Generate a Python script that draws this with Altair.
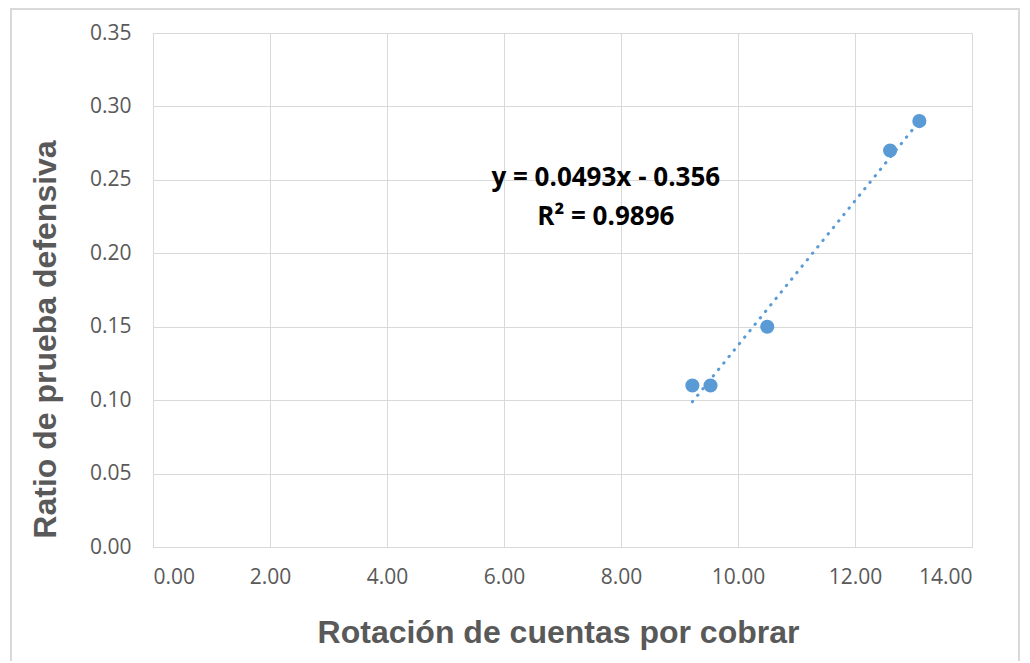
import altair as alt
import pandas as pd

# Data
rotacion = [9.22, 9.53, 10.50, 12.60, 13.10]
ratio = [0.11, 0.11, 0.15, 0.27, 0.29]

eq_lines = ["y = 0.0493x - 0.356", "R² = 0.9896"]
eq_x = [7.74, 7.74]
eq_y = [0.2513, 0.2247]

x_ticks = [0, 2, 4, 6, 8, 10, 12, 14]
y_ticks = [0, 0.05, 0.10, 0.15, 0.20, 0.25, 0.30, 0.35]

df = pd.DataFrame({"x": rotacion, "y": ratio})
eq_df = pd.DataFrame({"t": eq_lines, "x": eq_x, "y": eq_y})

BLUE = "#5B9BD5"
GRID = "#d9d9d9"
TXT = "#595959"

W, H = 819, 514

xscale = alt.Scale(domain=[0, 14], nice=False, zero=True)
yscale = alt.Scale(domain=[0, 0.35], nice=False, zero=True)

xaxis = alt.Axis(
    values=x_ticks, format=".2f", title="Rotación de cuentas por cobrar",
    grid=True, gridColor=GRID, domainColor=GRID, ticks=False,
    labelFont="Open Sans", labelFontSize=21, labelColor=TXT, labelPadding=19,
    titleFont="Liberation Sans", titleFontSize=32, titleFontWeight="bold",
    titleColor=TXT, titleX=405, titleY=85, titleBaseline="middle", titleAlign="center",
)
yaxis = alt.Axis(
    values=y_ticks, format=".2f", title="Ratio de prueba defensiva",
    grid=True, gridColor=GRID, domainColor=GRID, ticks=False,
    labelFont="Open Sans", labelFontSize=21, labelColor=TXT, labelPadding=22,
    titleFont="Liberation Sans", titleFontSize=32, titleFontWeight="bold",
    titleColor=TXT, titleAngle=-90, titleX=-108, titleY=306,
    titleBaseline="middle", titleAlign="center",
)

base = alt.Chart(df)

border = alt.Chart(pd.DataFrame({"a": [0]})).mark_rect(
    fill=None, stroke=GRID, strokeWidth=2
).encode(
    x=alt.value(-142), x2=alt.value(866), y=alt.value(-24), y2=alt.value(640)
)

trend = base.transform_regression("x", "y", method="linear").mark_line(
    color=BLUE, strokeWidth=3, strokeDash=[0.5, 7.8], strokeCap="round"
).encode(
    x=alt.X("x:Q", scale=xscale, axis=xaxis),
    y=alt.Y("y:Q", scale=yscale, axis=yaxis),
)

points = base.mark_circle(color=BLUE, opacity=1, size=200).encode(
    x=alt.X("x:Q", scale=xscale),
    y=alt.Y("y:Q", scale=yscale),
)

eq = alt.Chart(eq_df).mark_text(
    font="Open Sans", fontSize=26, fontWeight="bold", color="black",
    align="center", baseline="middle"
).encode(
    x=alt.X("x:Q", scale=xscale),
    y=alt.Y("y:Q", scale=yscale),
    text="t:N",
)

chart = alt.layer(border, trend, points, eq).properties(
    width=W, height=H,
    autosize=alt.AutoSizeParams(type="none"),
    padding={"left": 145, "top": 25, "right": 50, "bottom": 114},
).configure_view(stroke=GRID, strokeWidth=1.5).configure(background="white")

chart.save("out.html", embed_options={"renderer": "svg", "actions": False})
